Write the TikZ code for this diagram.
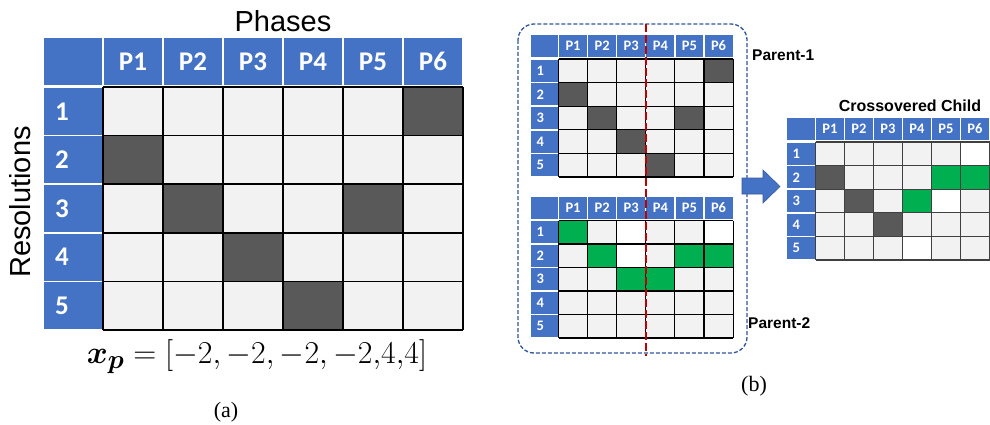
\documentclass[tikz,border=0pt]{standalone}
\usepackage{fontspec}
\usepackage{amsmath}
\newfontfamily\calfont{Carlito}
\newfontfamily\arifont{Liberation Sans}
\newfontfamily\timfont{Liberation Serif}
\definecolor{hdblue}{HTML}{4472C4}
\definecolor{cdark}{HTML}{595959}
\definecolor{clight}{HTML}{F2F2F2}
\definecolor{cgreen}{HTML}{00B050}
\definecolor{cred}{HTML}{C00000}
\definecolor{boxblue}{HTML}{2F5597}
\tikzset{
  hdtext/.style={text=white, inner sep=0pt},
  caption/.style={inner sep=0pt, font=\timfont\fontsize{22}{22}\selectfont},
  bigtitle/.style={inner sep=0pt, font=\arifont\fontsize{29}{29}\selectfont},
  smalltitle/.style={inner sep=0pt, font=\arifont\bfseries\fontsize{15.5}{15.5}\selectfont},
}
% #1 prefix, #2 X0, #3 Y0, #4 w, #5 h, #6 lw, #7 hh, #8 fontsize, #9 pad
\newcommand\gtable[9]{%
  \fill[hdblue] ({#2-#6-1},{#3-#7-2}) rectangle ({#2-0.7},{#3-2});
  \foreach \i in {1,...,6}{
    \fill[hdblue] ({#2+(\i-1)*#4+0.6},{#3-#7-2}) rectangle ({#2+\i*#4-0.6},{#3-2});
    \node[hdtext, font=\calfont\bfseries\fontsize{#8}{#8}\selectfont] (#1h\i) at ({#2+(\i-0.5)*#4},{#3-#7/2-2}) {P\i};
  }
  \foreach \j in {1,...,5}{
    \fill[hdblue] ({#2-#6-1},{#3+(\j-1)*#5+0.8}) rectangle ({#2-0.7},{#3+\j*#5-0.8});
    \node[hdtext, anchor=west, font=\calfont\bfseries\fontsize{#8}{#8}\selectfont] (#1r\j) at ({#2-#6-1+#9},{#3+(\j-0.5)*#5}) {\j};
  }
  \fill[clight] (#2,#3) rectangle ({#2+6*#4},{#3+5*#5});
}
% #1 X0, #2 Y0, #3 w, #4 h, #5 col, #6 row, #7 colour
\newcommand\gcell[7]{%
  \fill[#7] ({#1+(#5-1)*#3},{#2+(#6-1)*#4}) rectangle ({#1+#5*#3},{#2+#6*#4});
}
% #1 X0, #2 Y0, #3 w, #4 h, #5 style
\newcommand\glines[5]{%
  \foreach \k in {0,...,6}{\draw[#5] ({#1+\k*#3},#2) -- ({#1+\k*#3},{#2+5*#4});}
  \foreach \k in {0,...,5}{\draw[#5] (#1,{#2+\k*#4}) -- ({#1+6*#3},{#2+\k*#4});}
}
\begin{document}
\begin{tikzpicture}[x=1pt,y=-1pt]
\useasboundingbox (0,0) rectangle (990,425);
% ---------- (a) ----------
\gtable{L}{103}{87}{60}{48.6}{58}{47}{27}{11}
\foreach \c/\r in {6/1,1/2,2/3,5/3,3/4,4/5}{\gcell{103}{87}{60}{48.6}{\c}{\r}{cdark}}
\glines{103}{87}{60}{48.6}{black, line width=1.5pt}
\node[bigtitle] (phases) at (283,21) {Phases};
\node[bigtitle, rotate=90] (resol) at (20,202) {Resolutions};
\node[inner sep=0pt, font=\fontsize{24.88}{26}\selectfont] (xp) at (257,357) {\scalebox{1.28}{$\boldsymbol{x}_{\boldsymbol{p}} = [-2, -2, -2, -2{,}4{,}4]$}};
\node[caption] (capa) at (226,412) {(a)};
% ---------- (b) ----------
\draw[boxblue, line width=1.3pt, dash pattern=on 4pt off 2pt, rounded corners=16pt] (518,24) rectangle (747,353);
% parent 1
\gtable{A}{558.5}{59}{29.1}{23.6}{27}{22}{14.5}{6}
\foreach \c/\r in {6/1,1/2,2/3,5/3,3/4,4/5}{\gcell{558.5}{59}{29.1}{23.6}{\c}{\r}{cdark}}
\glines{558.5}{59}{29.1}{23.6}{black, line width=1.1pt}
% parent 2
\gtable{B}{558.5}{220.5}{29.1}{23.5}{27}{22}{14.5}{6}
\foreach \c/\r in {1/1,2/2,5/2,6/2,3/3,4/3}{\gcell{558.5}{220.5}{29.1}{23.5}{\c}{\r}{cgreen}}
\foreach \c/\r in {3/1,6/1,3/2}{\gcell{558.5}{220.5}{29.1}{23.5}{\c}{\r}{white}}
\glines{558.5}{220.5}{29.1}{23.5}{black, line width=1.1pt}
% red cut line
\coordinate (cuttop) at (646,24);
\coordinate (cutbot) at (646,356);
\draw[cred, line width=2pt, dash pattern=on 8pt off 3pt] (cuttop) -- (cutbot);
\node[smalltitle, anchor=west] (par1) at (752,55) {Parent-1};
\node[smalltitle, anchor=west] (par2) at (748,323) {Parent-2};
% child
\gtable{C}{815.5}{142}{29}{23.6}{28}{22}{14.5}{6}
\foreach \c/\r in {1/2,2/3,3/4}{\gcell{815.5}{142}{29}{23.6}{\c}{\r}{cdark}}
\foreach \c/\r in {5/2,6/2,4/3}{\gcell{815.5}{142}{29}{23.6}{\c}{\r}{cgreen}}
\foreach \c/\r in {6/1,5/3,4/5}{\gcell{815.5}{142}{29}{23.6}{\c}{\r}{white}}
\glines{815.5}{142}{29}{23.6}{black!75, line width=1.1pt}
\node[smalltitle, font=\arifont\bfseries\fontsize{16}{16}\selectfont] (child) at (910,106) {Crossovered Child};
% arrow
\fill[hdblue, draw=hdblue!80!black, line width=0.6pt] (742,178) -- (763,178) -- (763,170) -- (780,186.5) -- (763,203) -- (763,194) -- (742,194) -- cycle;
\node[caption] (capb) at (754,386) {(b)};
\end{tikzpicture}
\end{document}
